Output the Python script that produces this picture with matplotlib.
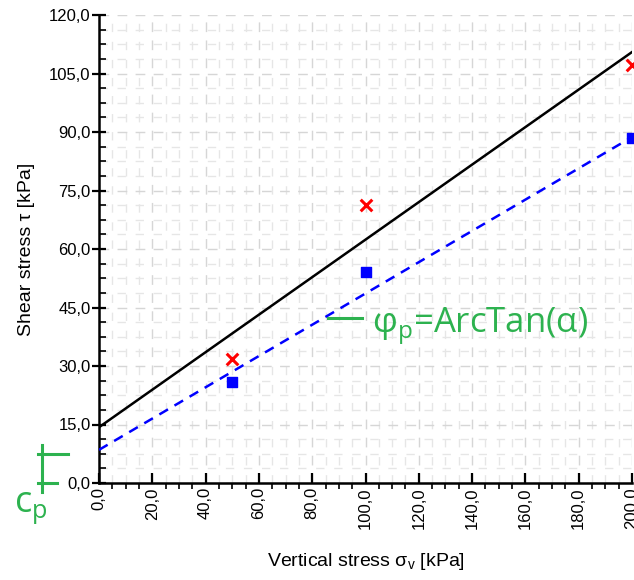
import matplotlib.pyplot as plt
from matplotlib.ticker import MultipleLocator, FuncFormatter

# measured points
sigma_v = [50, 100, 200]
tau_peak = [31.8, 71.3, 107.2]
tau_res = [25.9, 54.2, 88.5]

# fitted lines (end points)
fit_x = [0, 200]
fit_peak = [14.3, 110.5]
fit_res = [8.5, 88.7]

green = '#2db24f'
plt.rcParams['font.family'] = ['Liberation Sans', 'DejaVu Sans']

fig = plt.figure(figsize=(6.34, 5.8), dpi=100)
ax = fig.add_axes([99 / 634, 97 / 580, 533 / 634, 468 / 580])

ax.plot(fit_x, fit_peak, color='black', lw=1.8, zorder=3)
ax.plot(fit_x, fit_res, color='#0000ff', lw=1.8, ls=(0, (4, 3)), zorder=3)
ax.scatter(sigma_v, tau_peak, marker='x', color='#ff0000', s=70, linewidths=2.2, zorder=4, clip_on=False)
ax.scatter(sigma_v, tau_res, marker='s', color='#0000ff', s=55, zorder=4, clip_on=False)

ax.set_xlim(0, 200)
ax.set_ylim(0, 120)
ax.xaxis.set_major_locator(MultipleLocator(20))
ax.xaxis.set_minor_locator(MultipleLocator(5))
ax.yaxis.set_major_locator(MultipleLocator(15))
ax.yaxis.set_minor_locator(MultipleLocator(3.75))
fmt = FuncFormatter(lambda v, p: f'{v:.1f}'.replace('.', ','))
ax.xaxis.set_major_formatter(fmt)
ax.yaxis.set_major_formatter(fmt)

ax.grid(which='major', color='#d6d6d6', lw=1, ls=(0, (7, 6)))
ax.grid(which='minor', color='#e6e6e6', lw=1, ls=(0, (6, 7)))
ax.set_axisbelow(True)
for s in ['top', 'right']:
    ax.spines[s].set_visible(False)
for s in ['left', 'bottom']:
    ax.spines[s].set_linewidth(1.8)

ax.tick_params(axis='x', which='major', direction='in', length=7, width=1.6, labelsize=12, rotation=90, pad=3)
ax.tick_params(axis='x', which='minor', direction='out', length=4, width=1.2)
ax.tick_params(axis='y', which='major', direction='inout', length=10, width=1.6, labelsize=12, pad=1)
ax.tick_params(axis='y', which='minor', direction='in', length=5, width=1.2)

ax.set_xlabel('Vertical stress σ$_\\mathregular{v}$ [kPa]', fontsize=14, labelpad=16)
ax.set_ylabel('Shear stress τ [kPa]', fontsize=14, labelpad=10)

# annotations
fig.lines.append(plt.Line2D([42 / 634, 42 / 634], [88 / 580, 135 / 580], color=green, lw=2.2, transform=fig.transFigure))
fig.lines.append(plt.Line2D([38 / 634, 57 / 634], [97 / 580, 97 / 580], color=green, lw=2.2, transform=fig.transFigure))
fig.lines.append(plt.Line2D([38 / 634, 68 / 634], [126 / 580, 126 / 580], color=green, lw=2.2, transform=fig.transFigure))
fig.text(14 / 634, 68 / 580, 'c$_\\mathregular{p}$', color=green, fontsize=26, family='Open Sans')
fig.lines.append(plt.Line2D([328 / 634, 362 / 634], [262 / 580, 262 / 580], color=green, lw=2.2, transform=fig.transFigure))
fig.text(372 / 634, 247 / 580, 'φ$_\\mathregular{p}$=ArcTan(α)', color=green, fontsize=25, family='Open Sans')

fig.savefig('out.png', dpi=100)
